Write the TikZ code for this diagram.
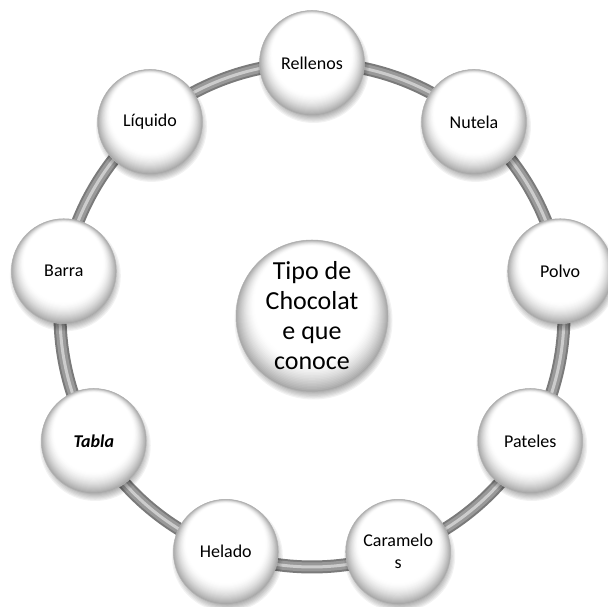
\documentclass[tikz,border=0pt]{standalone}
\usepackage{fontspec}
\setmainfont{Carlito}
\usetikzlibrary{calc}
\pgfdeclarelayer{bg}
\pgfdeclarelayer{mid}
\pgfsetlayers{bg,mid,main}
\newcommand\orbpaint[2]{%
  \foreach \orbk in {0,...,6}{%
    \fill[black, opacity=0.05] ($(#1.center)+(1.5,-4.5)$) circle ({#2+3-\orbk*1.2});}
  \foreach \orbk in {0,...,20}{%
    \pgfmathsetmacro\orbs{\orbk/20}%
    \pgfmathsetmacro\orbg{34*(1-\orbs)^1.6}%
    \fill[black!\orbg] ($(#1.center)+(0,{0.16*#2*\orbs})$) circle ({#2*(1-0.24*\orbs)});}
}
\begin{document}
\begin{tikzpicture}[x=1pt,y=1pt,
  orb/.style={circle, draw=black!30, line width=0.5pt,
    minimum size=105pt, inner sep=0pt, align=center,
    font=\fontsize{18}{22}\selectfont},
  tube/.style={draw=black!52, line width=13pt,
    postaction={draw=black!40, line width=9pt},
    postaction={draw=black!20, line width=3pt}}]
\useasboundingbox (0,0) rectangle (608,607);
\coordinate (c) at (312,292);
\node[orb] (n0) at ($(c)+(90:252)$) {Rellenos};
\node[orb] (n1) at ($(c)+(50:252)$) {Nutela};
\node[orb] (n2) at ($(c)+(10:252)$) {Polvo};
\node[orb] (n3) at ($(c)+(-30:252)$) {Pateles};
\node[orb] (n4) at ($(c)+(-70:252)$) {Caramelo\\s};
\node[orb] (n5) at ($(c)+(-110:252)$) {Helado};
\node[orb] (n6) at ($(c)+(-150:252)$) {\textbf{\textit{Tabla}}};
\node[orb] (n7) at ($(c)+(170:252)$) {Barra};
\node[orb] (n8) at ($(c)+(130:252)$) {Líquido};
\node[orb, minimum size=152pt, font=\fontsize{26}{30}\selectfont] (ctr) at (312,291) {Tipo de\\Chocolat\\e que\\conoce};
\begin{pgfonlayer}{mid}
\foreach \n in {n0,n1,n2,n3,n4,n5,n6,n7,n8} {\orbpaint{\n}{52.5}}
\orbpaint{ctr}{76}
\end{pgfonlayer}
\begin{pgfonlayer}{bg}
\foreach \a/\b in {n0/n1,n1/n2,n2/n3,n3/n4,n4/n5,n5/n6,n6/n7,n7/n8,n8/n0}
  \draw[tube] (\a.center) to[bend left=20, looseness=0.88] (\b.center);
\end{pgfonlayer}
\end{tikzpicture}
\end{document}
